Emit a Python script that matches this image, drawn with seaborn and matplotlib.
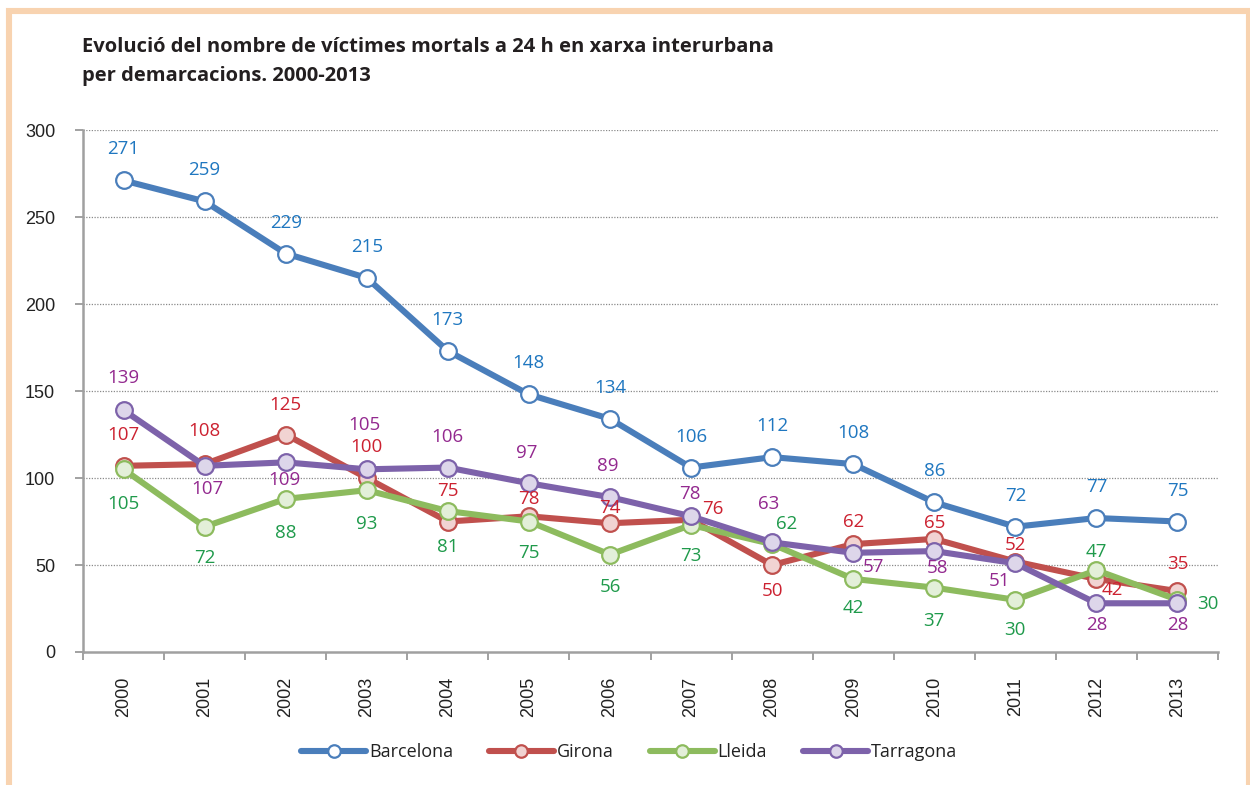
import matplotlib
matplotlib.use("Agg")
import matplotlib.pyplot as plt
import seaborn as sns
from matplotlib.patches import Rectangle

# ---- data ----
years = list(range(2000, 2014))
regions = ["Barcelona", "Girona", "Lleida", "Tarragona"]

barcelona = [271, 259, 229, 215, 173, 148, 134, 106, 112, 108, 86, 72, 77, 75]
girona = [107, 108, 125, 100, 75, 78, 74, 76, 50, 62, 65, 52, 42, 35]
lleida = [105, 72, 88, 93, 81, 75, 56, 73, 62, 42, 37, 30, 47, 30]
tarragona = [139, 107, 109, 105, 106, 97, 89, 78, 63, 57, 58, 51, 28, 28]

title_lines = [
    "Evolució del nombre de víctimes mortals a 24 h en xarxa interurbana",
    "per demarcacions. 2000-2013",
]

# ---- styles ----
line_colors = {"Barcelona": "#4a7ebb", "Girona": "#c0504d",
               "Lleida": "#8dbb5e", "Tarragona": "#7d62aa"}
face_colors = {"Barcelona": "#ffffff", "Girona": "#f1d3d2",
               "Lleida": "#e3efd9", "Tarragona": "#ddd6ea"}
text_colors = {"Barcelona": "#1f77c0", "Girona": "#cc2130",
               "Lleida": "#1f9a4b", "Tarragona": "#93298f"}

# label offsets in pixels (dx, dy), tuned per point like the original
label_offsets = {
    "Barcelona": [(0, 31)] * 14,
    "Girona": [(0, 31), (0, 33), (0, 30), (0, 31), (0, 31), (0, 17), (0, 15),
               (22, 11), (0, -26), (0, 22), (0, 16), (0, 17), (16, -11), (0, 27)],
    "Lleida": [(0, -35), (0, -31), (0, -34), (0, -34), (0, -36), (0, -32), (0, -32),
               (0, -31), (15, 20), (0, -29), (0, -33), (0, -30), (0, 18), (30, -4)],
    "Tarragona": [(0, 32), (3, -23), (-1, -18), (-2, 44), (0, 31), (-2, 30), (-2, 31),
                  (-1, 22), (-3, 38), (20, -14), (3, -17), (-16, -18), (0, -22), (0, -22)],
}

sns.set_theme(style="white")
plt.rcParams["font.family"] = ["Open Sans", "DejaVu Sans"]

fig = plt.figure(figsize=(12.5, 7.85), dpi=100)
ax = fig.add_axes([83 / 1250, 1 - 652 / 785, (1218 - 83) / 1250, (652 - 130) / 785])

series = {"Barcelona": barcelona, "Girona": girona,
          "Lleida": lleida, "Tarragona": tarragona}

for name in regions:
    vals = series[name]
    sns.lineplot(x=years, y=vals, ax=ax, color=line_colors[name], linewidth=4.4,
                 marker="o", markersize=12, markerfacecolor=face_colors[name],
                 markeredgecolor=line_colors[name], markeredgewidth=1.6,
                 label=name, legend=False)
    for yr, v, (dx, dy) in zip(years, vals, label_offsets[name]):
        ax.annotate(str(v), (yr, v), xytext=(dx, dy), textcoords="offset pixels",
                    ha="center", va="center", fontsize=13.5,
                    color=text_colors[name])

# axes
ax.set_xlim(1999.5, 2013.5)
ax.set_ylim(0, 300)
ax.set_yticks(range(0, 301, 50))
ax.set_xticks(years)
ax.set_xticklabels([str(y) for y in years], rotation=90,
                   fontfamily="Liberation Sans", fontsize=13, color="#222222")
ax.set_xticks([y - 0.5 for y in years] + [2013.5], minor=True)
ax.tick_params(axis="x", which="major", length=0, pad=18)
ax.tick_params(axis="x", which="minor", length=6, width=1.3, color="#9a9a9a",
               direction="out", bottom=True)
ax.tick_params(axis="y", length=6, width=1.3, color="#9a9a9a", direction="out",
               left=True, pad=14)
for lab in ax.get_yticklabels():
    lab.set_fontfamily("Liberation Sans")
    lab.set_fontsize(13)
    lab.set_color("#222222")
ax.set_xlabel("")
ax.set_ylabel("")

for y in range(50, 301, 50):
    ax.axhline(y, color="#8a8a8a", linewidth=0.9, linestyle=(0, (1, 1.2)), zorder=0)

for side in ["top", "right"]:
    ax.spines[side].set_visible(False)
for side in ["left", "bottom"]:
    ax.spines[side].set_color("#a0a0a0")
    ax.spines[side].set_linewidth(1.8)

# legend
handles, labels = ax.get_legend_handles_labels()
fig.legend(handles, labels, loc="center", bbox_to_anchor=(629 / 1250, 1 - 752 / 785),
           ncol=4, frameon=False, fontsize=13, handlelength=3.6, handletextpad=0.15,
           columnspacing=2.0, labelcolor="#222222", markerscale=0.75)

# title
fig.text(82 / 1250, 1 - 47 / 785, title_lines[0], fontsize=14.5, fontweight="bold",
         color="#231f20", va="center", ha="left")
fig.text(82 / 1250, 1 - 76 / 785, title_lines[1], fontsize=14.5, fontweight="bold",
         color="#231f20", va="center", ha="left")

# peach frame around the figure
fig.add_artist(Rectangle((9 / 1250, -0.05), (1249 - 9) / 1250, (785 - 11) / 785 + 0.05,
                         transform=fig.transFigure, fill=False,
                         edgecolor="#f8d3b0", linewidth=4.4, clip_on=False))

fig.savefig("out.png", dpi=100)
